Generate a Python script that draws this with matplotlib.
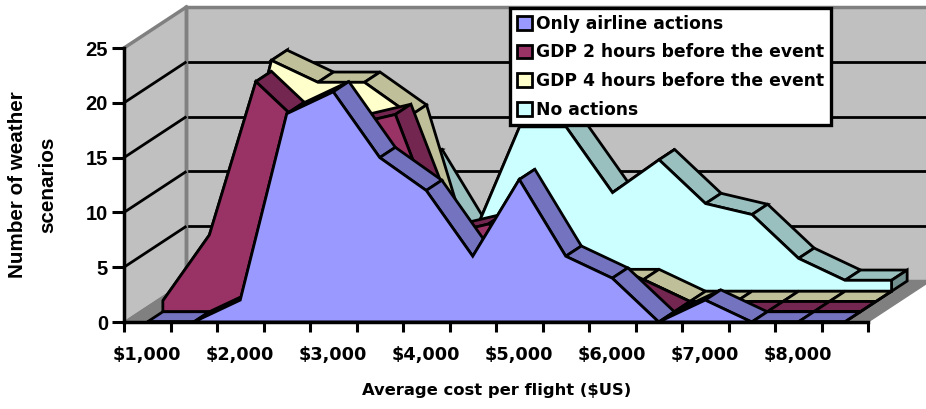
import matplotlib
matplotlib.use("Agg")
import matplotlib.pyplot as plt
from matplotlib.patches import Polygon, Patch

W, H = 926, 409
FONT = "DejaVu Sans"
ARIAL = "Liberation Sans"

categories = [1000, 1500, 2000, 2500, 3000, 3500, 4000, 4500,
              5000, 5500, 6000, 6500, 7000, 7500, 8000, 8500]
only_airline = [0, 0, 2, 19, 21, 15, 12, 6, 13, 6, 4, 0, 2, 0, 0, 0]
gdp_2h = [1, 7, 21, 17, 17, 18, 7, 8, 6, 4, 2, 0, 0, 0, 0, 0]
gdp_4h = [0, 5, 22, 20, 20, 17, 3, 3, 4, 2, 2, 0, 0, 0, 0, 0]
no_actions = [0, 1, 7, 11, 13, 12, 5, 15, 15, 9, 12, 8, 7, 3, 1, 1]
series_names = ["Only airline actions", "GDP 2 hours before the event",
                "GDP 4 hours before the event", "No actions"]
face_colors = ["#9999FF", "#993366", "#FFFFCC", "#CCFFFF"]
top_colors = ["#7373BF", "#732650", "#BFBF99", "#99BFBF"]
end_colors = ["#4D4D80", "#4D1A33", "#808066", "#739090"]
y_ticks = [0, 5, 10, 15, 20, 25]
tick_labels = ["$1,000", "$2,000", "$3,000", "$4,000",
               "$5,000", "$6,000", "$7,000", "$8,000"]

STEP_X, STEP_Y = 46.5, 10.96
DX, DY = 15.6 / STEP_X, 10.25 / STEP_Y  # depth of one series
LW = 2.0

fig = plt.figure(figsize=(W / 100, H / 100), dpi=100)
ax = fig.add_axes([124 / W, (H - 322) / H, 744 / W, 274 / H])
ax.set_xlim(0, 16)
ax.set_ylim(0, 25)
ax.patch.set_visible(False)

nd = len(series_names)


def poly(points, fc, ec="black", lw=LW, z=1.0):
    ax.add_patch(Polygon(points, closed=True, fc=fc, ec=ec, lw=lw, zorder=z,
                         clip_on=False, joinstyle="miter"))


# walls and floor
D_X, D_Y = nd * DX, nd * DY
poly([(0, 0), (D_X, D_Y), (D_X, 25 + D_Y), (0, 25)], "#C0C0C0", "#808080", 1, 0.1)
poly([(D_X, D_Y), (16 + D_X, D_Y), (16 + D_X, 25 + D_Y), (D_X, 25 + D_Y)],
     "#C0C0C0", "#808080", 2.5, 0.1)
poly([(0, 0), (16, 0), (16 + D_X, D_Y), (D_X, D_Y)], "#808080", "#808080", 1, 0.15)
for v in y_ticks[1:-1]:
    ax.plot([D_X, 16 + D_X], [v + D_Y, v + D_Y], color="black", lw=LW,
            zorder=0.2, clip_on=False, solid_capstyle="butt")
ax.plot([0, D_X], [25, 25 + D_Y], color="#808080", lw=2.5, zorder=0.2, clip_on=False)
ax.plot([D_X, D_X], [D_Y, 25 + D_Y], color="#808080", lw=2.5, zorder=0.22, clip_on=False)
for v in y_ticks[1:-1]:
    ax.plot([0, D_X], [v, v + D_Y], color="black", lw=LW, zorder=0.25,
            clip_on=False, solid_capstyle="butt")

# areas, back to front
all_series = [only_airline, gdp_2h, gdp_4h, no_actions]
for d in reversed(range(nd)):
    vals = all_series[d]
    ox, oy = d * DX, d * DY
    xs = [k + 0.5 + ox for k in range(len(vals))]
    ys = [v + oy for v in vals]
    z = 1.0 + (nd - d)
    # top surfaces
    for i in range(len(vals) - 1):
        poly([(xs[i], ys[i]), (xs[i + 1], ys[i + 1]),
              (xs[i + 1] + DX, ys[i + 1] + DY), (xs[i] + DX, ys[i] + DY)],
             top_colors[d], z=z)
    # right-hand end
    poly([(xs[-1], oy), (xs[-1], ys[-1]), (xs[-1] + DX, ys[-1] + DY),
          (xs[-1] + DX, oy + DY)], end_colors[d], z=z)
    # front face
    poly([(xs[0], oy)] + list(zip(xs, ys)) + [(xs[-1], oy)], face_colors[d], z=z + 0.1)

# axes furniture
for s in ("top", "right"):
    ax.spines[s].set_visible(False)
for s in ("left", "bottom"):
    ax.spines[s].set_linewidth(2.5)
    ax.spines[s].set_zorder(8)
ax.set_xticks(range(17))
ax.set_xticklabels([])
ax.set_xticks([i + 0.5 for i in range(0, 16, 2)], minor=True)
ax.set_xticklabels(tick_labels, minor=True, fontsize=12.8, fontweight="bold", family=FONT)
ax.tick_params(axis="x", which="major", length=7.5, width=2.2, direction="out")
ax.tick_params(axis="x", which="minor", length=0, pad=17)
ax.set_yticks(y_ticks)
ax.set_yticklabels([str(v) for v in y_ticks], fontsize=14.5, fontweight="bold", family=ARIAL)
ax.tick_params(axis="y", length=8.6, width=2.2, direction="out", pad=3)

ax.set_xlabel("Average cost per flight ($US)", fontsize=11.8, fontweight="bold", family=FONT)
ax.xaxis.set_label_coords((497 - 124) / 744, -(390 - 322) / 274)
ax.xaxis.label.set_va("center")
ax.set_ylabel("Number of weather\nscenarios", fontsize=14.9, fontweight="bold",
              family=ARIAL, linespacing=1.75, ha="center")
ax.yaxis.set_label_coords((33 - 124) / 744, (322 - 185) / 274)
ax.yaxis.label.set_va("center")

handles = [Patch(fc=c, ec="black", lw=LW) for c in face_colors]
leg = fig.legend(handles, series_names, loc="upper left",
                 bbox_to_anchor=(510 / W, 1 - 8 / H), borderaxespad=0, frameon=True,
                 fancybox=False, framealpha=1, edgecolor="black",
                 prop={"family": FONT, "weight": "bold", "size": 12.3},
                 handlelength=0.9, handleheight=0.85, handletextpad=0.2,
                 labelspacing=0.62, borderpad=0.4)
leg.get_frame().set_linewidth(2.4)
leg.set_zorder(20)

fig.savefig("out.png", dpi=100)
